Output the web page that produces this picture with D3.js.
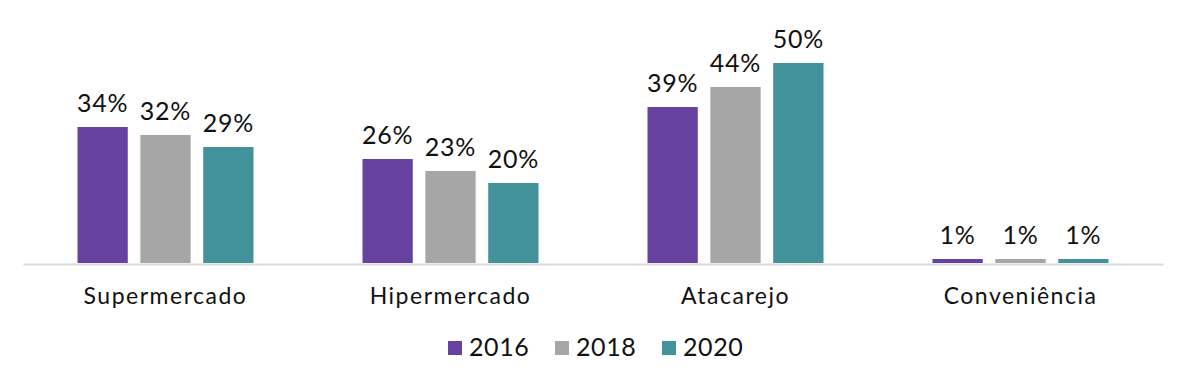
<!DOCTYPE html>
<html><head><meta charset="utf-8">
<script src="https://cdn.jsdelivr.net/npm/d3@7"></script>
<style>html,body{margin:0;padding:0;background:#fff;}svg{display:block;}</style>
</head><body>
<svg id="chart" width="1186" height="383"></svg>
<script>
const categories = ["Supermercado", "Hipermercado", "Atacarejo", "Conveniência"];
const seriesNames = ["2016", "2018", "2020"];
const values2016 = [34, 26, 39, 1];
const values2018 = [32, 23, 44, 1];
const values2020 = [29, 20, 50, 1];
const colors = ["#6741a0", "#a6a6a6", "#43919a"];

const series = [values2016, values2018, values2020];
const font = "Lato, 'Open Sans', sans-serif";
const svg = d3.select("#chart");
const left = 23, right = 1163, baseY = 263;

const x0 = d3.scaleBand().domain(categories).range([left, right]).paddingInner(0).paddingOuter(0);
const x1 = d3.scaleBand().domain(seriesNames).range([0, 176]).paddingInner(0.2).paddingOuter(0);
const y = d3.scaleLinear().domain([0, 50]).range([baseY, 63]);

const groups = svg.selectAll("g.cat").data(categories).enter().append("g")
  .attr("transform", d => `translate(${x0(d) + x0.bandwidth()/2 - 88},0)`);

groups.each(function(cat, ci) {
  const g = d3.select(this);
  seriesNames.forEach((s, si) => {
    const v = series[si][ci];
    g.append("rect").attr("x", x1(s)).attr("y", y(v))
      .attr("width", x1.bandwidth()).attr("height", baseY - y(v)).attr("fill", colors[si]);
    g.append("text").attr("x", x1(s) + x1.bandwidth()/2).attr("y", y(v) - 15)
      .attr("text-anchor", "middle").attr("font-family", font).attr("font-size", 25)
      .attr("letter-spacing", 0.8)
      .attr("fill", "#111").text(v + "%");
  });
});

const axis = d3.axisBottom(x0).tickSize(0).tickPadding(24);
const ag = svg.append("g").attr("transform", `translate(0,${baseY + 1})`).call(axis);
ag.select(".domain").attr("stroke", "#d9d9d9").attr("stroke-width", 2);
ag.selectAll("text").attr("font-family", font).attr("font-size", 23)
  .attr("letter-spacing", 1.5).attr("fill", "#111");

const legendX = [448, 555, 662];
const lg = svg.append("g");
seriesNames.forEach((s, i) => {
  lg.append("rect").attr("x", legendX[i]).attr("y", 341).attr("width", 14).attr("height", 14).attr("fill", colors[i]);
  lg.append("text").attr("x", legendX[i] + 21).attr("y", 356).attr("font-family", font)
    .attr("font-size", 25).attr("letter-spacing", 0.6).attr("fill", "#111").text(s);
});
</script>
</body></html>
